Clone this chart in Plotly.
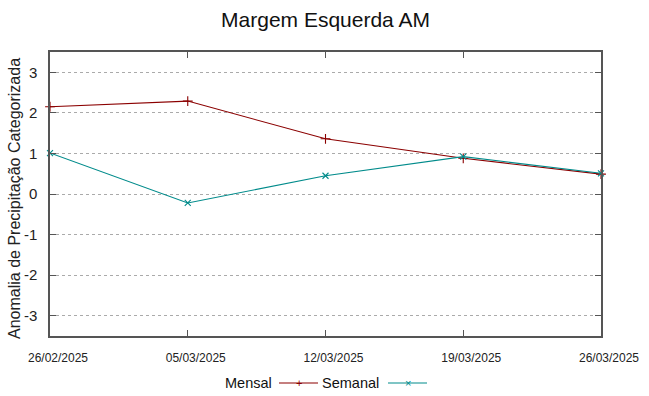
import plotly.graph_objects as go

dates = ["26/02/2025", "05/03/2025", "12/03/2025", "19/03/2025", "26/03/2025"]
mensal = [2.15, 2.29, 1.36, 0.88, 0.49]
semanal = [1.01, -0.22, 0.45, 0.92, 0.51]
y_ticks = [-3, -2, -1, 0, 1, 2, 3]

title = "Margem Esquerda AM"
y_title = "Anomalia de Precipitação Categorizada"
series_names = ["Mensal", "Semanal"]
colors = ["#8b0000", "#008b8b"]

W, H = 649, 396
ML, MR, MT, MB = 50, 48, 52, 60
PW, PH = W - ML - MR, H - MT - MB

FONT = "Liberation Sans, Arial, sans-serif"

def px(x):
    return (x - ML) / PW

def py(y):
    return (H - MB - y) / PH

fig = go.Figure()
idx = list(range(len(dates)))
fig.add_trace(go.Scatter(x=idx, y=mensal, mode="lines+markers", name=series_names[0],
                         line=dict(color=colors[0], width=1.1),
                         marker=dict(symbol="cross-thin", size=7, line=dict(color=colors[0], width=1.1)),
                         cliponaxis=False))
fig.add_trace(go.Scatter(x=idx, y=semanal, mode="lines+markers", name=series_names[1],
                         line=dict(color=colors[1], width=1.1),
                         marker=dict(symbol="x-thin", size=6, line=dict(color=colors[1], width=1.1)),
                         cliponaxis=False))

fig.update_layout(
    width=W, height=H,
    margin=dict(l=ML, r=MR, t=MT, b=MB, autoexpand=False),
    paper_bgcolor="white", plot_bgcolor="white",
    showlegend=False,
    font=dict(family=FONT, color="#222"),
    title=dict(text=title, x=0.5, xanchor="center", xref="paper",
               y=1 - 20 / H, yanchor="middle", yref="container",
               font=dict(size=21, color="#111")),
)
fig.update_xaxes(
    range=[0, len(dates) - 1], automargin=False,
    tickmode="array", tickvals=idx, ticktext=dates,
    ticks="inside", ticklen=6, tickcolor="#555",
    showline=True, linecolor="#555", linewidth=1.5, mirror="allticks",
    showgrid=False, zeroline=False,
    tickfont=dict(size=12, color="#222"),
    ticklabelstandoff=10, ticklabelshift=8,
)
fig.update_yaxes(
    range=[-3.5, 3.5], automargin=False,
    tickmode="array", tickvals=y_ticks, ticktext=[str(v) for v in y_ticks],
    ticks="inside", ticklen=6, tickcolor="#555",
    showline=True, linecolor="#555", linewidth=1.5, mirror="allticks",
    showgrid=True, gridcolor="#aaa", griddash="dot", gridwidth=1,
    zeroline=False,
    tickfont=dict(size=15, color="#222"),
    ticklabelstandoff=8,
)

# y-axis title placed like gnuplot's
fig.add_annotation(text=y_title, xref="paper", yref="paper",
                   x=px(14), y=py(199), textangle=-90,
                   xanchor="center", yanchor="middle", showarrow=False,
                   font=dict(size=16, color="#222"))

# gnuplot-style legend below the plot: text, then line sample with marker
LY = 383
entries = [(series_names[0], colors[0], "+", 274, 279, 318),
           (series_names[1], colors[1], "×", 381, 388, 427)]
for name, col, sym, tx, x0, x1 in entries:
    fig.add_annotation(text=name, xref="paper", yref="paper",
                       x=px(tx), y=py(LY),
                       xanchor="right", yanchor="middle", showarrow=False,
                       font=dict(size=14.5, color="#111"))
    fig.add_shape(type="line", xref="paper", yref="paper",
                  x0=px(x0), x1=px(x1), y0=py(LY), y1=py(LY),
                  line=dict(color=col, width=1.1))
    fig.add_annotation(text=sym, xref="paper", yref="paper",
                       x=px((x0 + x1) / 2), y=py(LY),
                       xanchor="center", yanchor="middle", showarrow=False,
                       font=dict(size=11, color=col))

fig.write_html("out.html", config={"displayModeBar": False},
               post_script="document.body.style.margin='0';document.body.style.overflow='hidden';")
